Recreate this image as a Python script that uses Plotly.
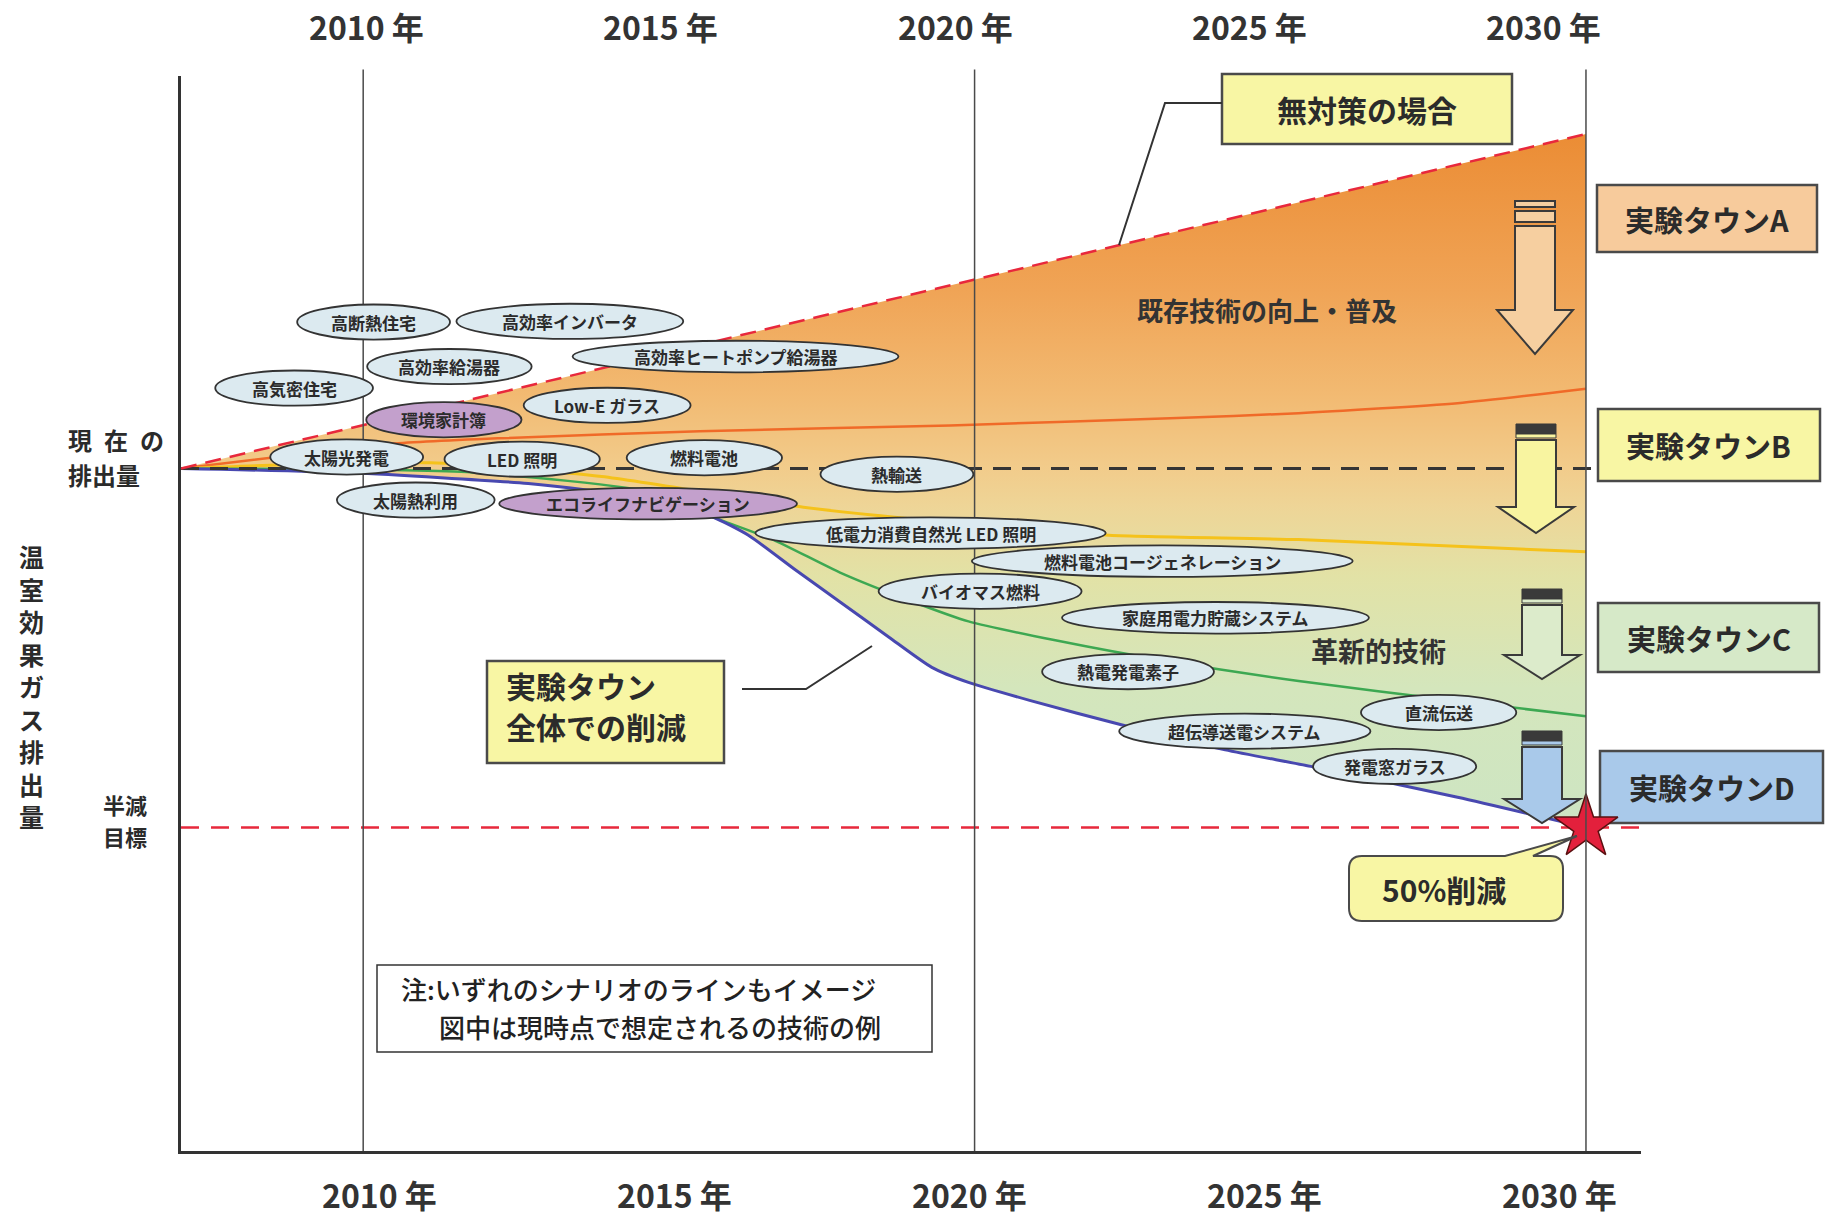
import plotly.graph_objects as go

# ---------------- data ----------------
tick_years = [2010, 2015, 2020, 2025, 2030]
tick_labels = ["2010 年", "2015 年", "2020 年", "2025 年", "2030 年"]
guide_years = [2010, 2020, 2030]

current_level = 100
half_target = 50
target_year = 2030

# emissions index (current = 100)
no_measure_years = [2007.02, 2030.0]
no_measure_vals = [100.0, 146.6]

townA_years = [2007.02, 2008.8, 2010.4, 2012.2, 2015.5, 2019.6, 2023.2, 2025.3, 2027.9, 2030.0]
townA_vals = [100.0, 101.8, 103.4, 104.2, 105.2, 106.0, 107.0, 107.7, 109.1, 111.1]

townB_years = [2007.02, 2009.0, 2011.1, 2013.9, 2017.2, 2019.2, 2022.2, 2025.3, 2030.0]
townB_vals = [100.0, 100.6, 100.8, 98.9, 94.6, 92.8, 90.7, 90.1, 88.4]

townC_years = [2007.02, 2011.7, 2014.8, 2015.7, 2016.7, 2017.8, 2019.0, 2019.9, 2021.3, 2023.2, 2025.3, 2027.9, 2030.0]
townC_vals = [100.0, 99.5, 96.6, 93.3, 90.1, 85.5, 81.4, 78.7, 76.1, 73.1, 70.4, 67.6, 65.5]

townD_years = [2007.02, 2009.8, 2012.7, 2014.6, 2015.7, 2016.3, 2017.05, 2017.8, 2018.6, 2019.3, 2019.9,
               2020.9, 2022.4, 2024.1, 2025.5, 2027.9, 2030.0]
townD_vals = [100.0, 99.4, 97.9, 95.9, 93.3, 90.7, 86.0, 81.4, 76.5, 72.3, 70.2,
              67.7, 64.3, 60.8, 58.5, 54.2, 50.0]

# technology examples (label, year, level)
tech_names = ["高断熱住宅", "高効率インバータ", "高効率給湯器", "高気密住宅", "環境家計簿", "Low-E ガラス",
              "太陽光発電", "LED 照明", "太陽熱利用", "エコライフナビゲーション", "高効率ヒートポンプ給湯器",
              "燃料電池", "熱輸送", "低電力消費自然光 LED 照明", "燃料電池コージェネレーション", "バイオマス燃料",
              "家庭用電力貯蔵システム", "熱電発電素子", "直流伝送", "超伝導送電システム", "発電窓ガラス"]
tech_years = [2010.17, 2013.38, 2011.41, 2008.87, 2011.32, 2013.99, 2009.73, 2012.60, 2010.86, 2014.66, 2016.09,
              2015.58, 2018.73, 2019.28, 2023.07, 2020.09, 2023.94, 2022.51, 2027.59, 2024.42, 2026.87]
tech_levels = [120.4, 120.5, 114.2, 111.2, 106.8, 108.8, 101.6, 101.3, 95.6, 95.1, 115.6,
               101.5, 99.2, 91.0, 87.1, 82.9, 79.2, 71.7, 66.0, 63.4, 58.5]
tech_purple = ["環境家計簿", "エコライフナビゲーション"]

# ---------------- layout helpers ----------------
FONT = "Noto Sans CJK JP, Noto Sans, sans-serif"
DARK = "#2b2b2b"
W, H = 1832, 1216
L, R, T, B = 181, 1641, 76, 1151
XR = [2007.02, 2030.90]
YR = [4.92, 154.68]


def pxp(x):
    return (x - L) / (R - L)


def pyp(y):
    return (B - y) / (B - T)


def poly(points):
    return "M " + " L ".join(f"{pxp(x):.5f},{pyp(y):.5f}" for x, y in points) + " Z"


def line_path(points):
    return "M " + " L ".join(f"{pxp(x):.5f},{pyp(y):.5f}" for x, y in points)


annotations = []


def label(x, y, text, size, xref="paper", yref="paper", xanchor="center", color=DARK, weight=None, align="center"):
    f = dict(family=FONT, size=size, color=color)
    if weight is not None:
        f["weight"] = weight
    annotations.append(dict(x=x, y=y, xref=xref, yref=yref, text=text, showarrow=False,
                            xanchor=xanchor, yanchor="middle", align=align, font=f))


fig = go.Figure()

# gradient fill between "no measures" line and overall reduction line
fig.add_trace(go.Scatter(x=townD_years, y=townD_vals, mode="lines",
                         line=dict(width=0, color="rgba(0,0,0,0)", shape="spline", smoothing=0.6),
                         hoverinfo="skip", showlegend=False))
fig.add_trace(go.Scatter(x=no_measure_years, y=no_measure_vals, mode="lines",
                         line=dict(width=0, color="rgba(0,0,0,0)"), fill="tonexty",
                         fillgradient=dict(type="vertical", start=50, stop=147,
                                           colorscale=[[0, "#CDE5C3"], [0.2, "#D4E6BC"], [0.36, "#E2E2A6"],
                                                       [0.46, "#EED597"], [0.52, "#F2CB8A"], [0.62, "#F2BA72"],
                                                       [0.77, "#F0A456"], [1, "#EB8C34"]]),
                         hoverinfo="skip", showlegend=False))

for xs, ys, col, wd in [(townA_years, townA_vals, "#F06A28", 2.5),
                        (townB_years, townB_vals, "#F5C21B", 3),
                        (townC_years, townC_vals, "#3DA852", 2.5),
                        (townD_years, townD_vals, "#4848B0", 3)]:
    fig.add_trace(go.Scatter(x=xs, y=ys, mode="lines",
                             line=dict(color=col, width=wd, shape="spline", smoothing=0.6),
                             hoverinfo="skip", showlegend=False))

fig.add_trace(go.Scatter(x=[XR[0], 2030.2], y=[current_level, current_level], mode="lines",
                         line=dict(color="#353535", width=3, dash="18px,11px"),
                         hoverinfo="skip", showlegend=False))
fig.add_trace(go.Scatter(x=no_measure_years, y=no_measure_vals, mode="lines",
                         line=dict(color="#E8283C", width=2.5, dash="16px,9px"),
                         hoverinfo="skip", showlegend=False))
fig.add_trace(go.Scatter(x=[XR[0], XR[1]], y=[half_target, half_target], mode="lines",
                         line=dict(color="#E8283C", width=2.5, dash="18px,12px"),
                         hoverinfo="skip", showlegend=False))

shapes = []

# guide vertical lines
for yv in guide_years:
    shapes.append(dict(type="line", xref="x", yref="paper", x0=yv, x1=yv, y0=0, y1=1.006,
                       line=dict(color="#4a4a4a", width=1.5)))

# technology ellipses
ell_w = {"高断熱住宅": 2.50, "高効率インバータ": 3.71, "高効率給湯器": 2.69, "高気密住宅": 2.58, "環境家計簿": 2.54,
         "Low-E ガラス": 2.73, "太陽光発電": 2.50, "LED 照明": 2.54, "太陽熱利用": 2.58,
         "エコライフナビゲーション": 4.87, "高効率ヒートポンプ給湯器": 5.33, "燃料電池": 2.54, "熱輸送": 2.50,
         "低電力消費自然光 LED 照明": 5.73, "燃料電池コージェネレーション": 6.23, "バイオマス燃料": 3.32,
         "家庭用電力貯蔵システム": 5.02, "熱電発電素子": 2.81, "直流伝送": 2.54, "超伝導送電システム": 4.11,
         "発電窓ガラス": 2.67}
for name, yx, lv in zip(tech_names, tech_years, tech_levels):
    w = ell_w[name]
    h = 4.4 if len(name) > 10 else 4.9
    fill = "#C3A0CC" if name in tech_purple else "#DCEAF0"
    shapes.append(dict(type="circle", xref="x", yref="y", x0=yx - w / 2, x1=yx + w / 2,
                       y0=lv - h / 2, y1=lv + h / 2, fillcolor=fill, line=dict(color="#333", width=1.8)))
    label(yx, lv, f"<b>{name}</b>", 17, xref="x", yref="y")

# block arrows on the right
arrows = [(1535, 201, 310, 354, "#F6CFA0", False),
          (1536, 424, 507, 533, "#F8F4A0", True),
          (1542, 589, 655, 679, "#DCEBCB", True),
          (1542, 731, 799, 823, "#A9C9EA", True)]
for cx, top, hs, tip, col, dark in arrows:
    sw, hw = 20, 38
    if dark:
        shapes.append(dict(type="path", xref="paper", yref="paper",
                           path=poly([(cx - sw, top), (cx + sw, top), (cx + sw, top + 10), (cx - sw, top + 10)]),
                           fillcolor="#3a3a3a", line=dict(color="#3a3a3a", width=1)))
        shapes.append(dict(type="path", xref="paper", yref="paper",
                           path=poly([(cx - sw, top + 10), (cx + sw, top + 10), (cx + sw, top + 14), (cx - sw, top + 14)]),
                           fillcolor=col, line=dict(color="#3a3a3a", width=1)))
        s0 = top + 16
    else:
        shapes.append(dict(type="path", xref="paper", yref="paper",
                           path=poly([(cx - sw, top), (cx + sw, top), (cx + sw, top + 6), (cx - sw, top + 6)]),
                           fillcolor=col, line=dict(color="#3a3a3a", width=2)))
        shapes.append(dict(type="path", xref="paper", yref="paper",
                           path=poly([(cx - sw, top + 10), (cx + sw, top + 10), (cx + sw, top + 21), (cx - sw, top + 21)]),
                           fillcolor=col, line=dict(color="#3a3a3a", width=2)))
        s0 = top + 25
    shapes.append(dict(type="path", xref="paper", yref="paper",
                       path=poly([(cx - sw, s0), (cx - sw, hs), (cx - hw, hs), (cx, tip), (cx + hw, hs),
                                  (cx + sw, hs), (cx + sw, s0)]),
                       fillcolor=col, line=dict(color="#3a3a3a", width=2)))

# boxes with text
boxes = [((1222, 74, 1512, 144), "#F8F6A4", "無対策の場合", 30),
         ((1597, 185, 1817, 252), "#F7CB9C", "実験タウンA", 29),
         ((1598, 409, 1820, 481), "#F8F6A4", "実験タウンB", 29),
         ((1598, 603, 1819, 672), "#D6E9C8", "実験タウンC", 29),
         ((1600, 751, 1823, 823), "#A9C9EA", "実験タウンD", 29)]
for (x0, y0, x1, y1), col, txt, fs in boxes:
    shapes.append(dict(type="rect", xref="paper", yref="paper", x0=pxp(x0), x1=pxp(x1), y0=pyp(y1), y1=pyp(y0),
                       fillcolor=col, line=dict(color="#4a4a4a", width=2.5),
                       layer="below" if x0 > 1590 else "above"))
    label(pxp((x0 + x1) / 2), pyp((y0 + y1) / 2), f"<b>{txt}</b>", fs)

# overall reduction box
shapes.append(dict(type="rect", xref="paper", yref="paper", x0=pxp(487), x1=pxp(724), y0=pyp(763), y1=pyp(661),
                   fillcolor="#F8F6A4", line=dict(color="#4a4a4a", width=2.5)))
label(pxp(504), pyp(685), "<b>実験タウン</b>", 30, xanchor="left")
label(pxp(504), pyp(726), "<b>全体での削減</b>", 30, xanchor="left")
shapes.append(dict(type="path", xref="paper", yref="paper",
                   path=line_path([(742, 689), (806, 689), (872, 646)]), line=dict(color="#333", width=2)))
shapes.append(dict(type="path", xref="paper", yref="paper",
                   path=line_path([(1222, 103), (1165, 103), (1119, 245)]), line=dict(color="#333", width=2)))

# note box
shapes.append(dict(type="rect", xref="paper", yref="paper", x0=pxp(377), x1=pxp(932), y0=pyp(1052), y1=pyp(965),
                   fillcolor="white", line=dict(color="#333", width=1.5)))
label(pxp(399), pyp(988), "注:いずれのシナリオのラインもイメージ", 26, xanchor="left", color="#222", weight=500)
label(pxp(437), pyp(1026), "図中は現時点で想定されるの技術の例", 26, xanchor="left", color="#222", weight=500)

# 50% callout bubble
bx0, by0, bx1, by1, r = 1349, 856, 1563, 921, 13
bp = (f"M {pxp(bx0 + r):.5f},{pyp(by0):.5f} L {pxp(1505):.5f},{pyp(by0):.5f} "
      f"L {pxp(1577):.5f},{pyp(836):.5f} L {pxp(1533):.5f},{pyp(by0):.5f} "
      f"L {pxp(bx1 - r):.5f},{pyp(by0):.5f} Q {pxp(bx1):.5f},{pyp(by0):.5f} {pxp(bx1):.5f},{pyp(by0 + r):.5f} "
      f"L {pxp(bx1):.5f},{pyp(by1 - r):.5f} Q {pxp(bx1):.5f},{pyp(by1):.5f} {pxp(bx1 - r):.5f},{pyp(by1):.5f} "
      f"L {pxp(bx0 + r):.5f},{pyp(by1):.5f} Q {pxp(bx0):.5f},{pyp(by1):.5f} {pxp(bx0):.5f},{pyp(by1 - r):.5f} "
      f"L {pxp(bx0):.5f},{pyp(by0 + r):.5f} Q {pxp(bx0):.5f},{pyp(by0):.5f} {pxp(bx0 + r):.5f},{pyp(by0):.5f} Z")
shapes.append(dict(type="path", xref="paper", yref="paper", path=bp, fillcolor="#F8F6A4",
                   line=dict(color="#4a4a4a", width=2)))
label(pxp(1444), pyp(889), "<b>50%削減</b>", 30)

# star at the half target
fig.add_trace(go.Scatter(x=[target_year], y=[half_target], mode="markers",
                         marker=dict(symbol="star", size=48, color="#E3203C", line=dict(color="#5a1010", width=1.5)),
                         cliponaxis=False, hoverinfo="skip", showlegend=False))

# in-plot labels
label(2024.79, 122.2, "<b>既存技術の向上・普及</b>", 26, xref="x", yref="y", color="#333")
label(2026.60, 74.6, "<b>革新的技術</b>", 27, xref="x", yref="y", color="#333")

# year labels top and bottom
for yv, lab in zip(tick_years, tick_labels):
    label(2010.05 + (yv - 2010) * 0.963, pyp(26), f"<b>{lab}</b>", 32, xref="x", color="#333")
    label(2010.27 + (yv - 2010) * 0.9645, pyp(1194), f"<b>{lab}</b>", 32, xref="x", color="#333")

# left side labels
label(pxp(66), pyp(439), "<b>現\u2002在\u2002の</b>", 24, xanchor="left")
label(pxp(66), pyp(474), "<b>排出量</b>", 24, xanchor="left")
label(pxp(125), pyp(804), "<b>半減</b>", 22)
label(pxp(125), pyp(836), "<b>目標</b>", 22)
label(pxp(31), pyp(686), "<b>" + "<br>".join("温室効果ガス排出量") + "</b>", 25)

fig.update_layout(
    width=W, height=H,
    margin=dict(l=L, r=W - R, t=T, b=H - B),
    paper_bgcolor="white", plot_bgcolor="white",
    xaxis=dict(range=XR, showgrid=False, zeroline=False, showticklabels=False, ticks="",
               showline=True, linewidth=3, linecolor="#333"),
    yaxis=dict(range=YR, showgrid=False, zeroline=False, showticklabels=False, ticks="",
               showline=True, linewidth=3, linecolor="#333"),
    shapes=shapes, annotations=annotations,
    font=dict(family=FONT), showlegend=False,
)

fig.write_html("out.html", config={"displayModeBar": False},
               post_script="document.body.style.margin='0';document.body.style.overflow='hidden';")
